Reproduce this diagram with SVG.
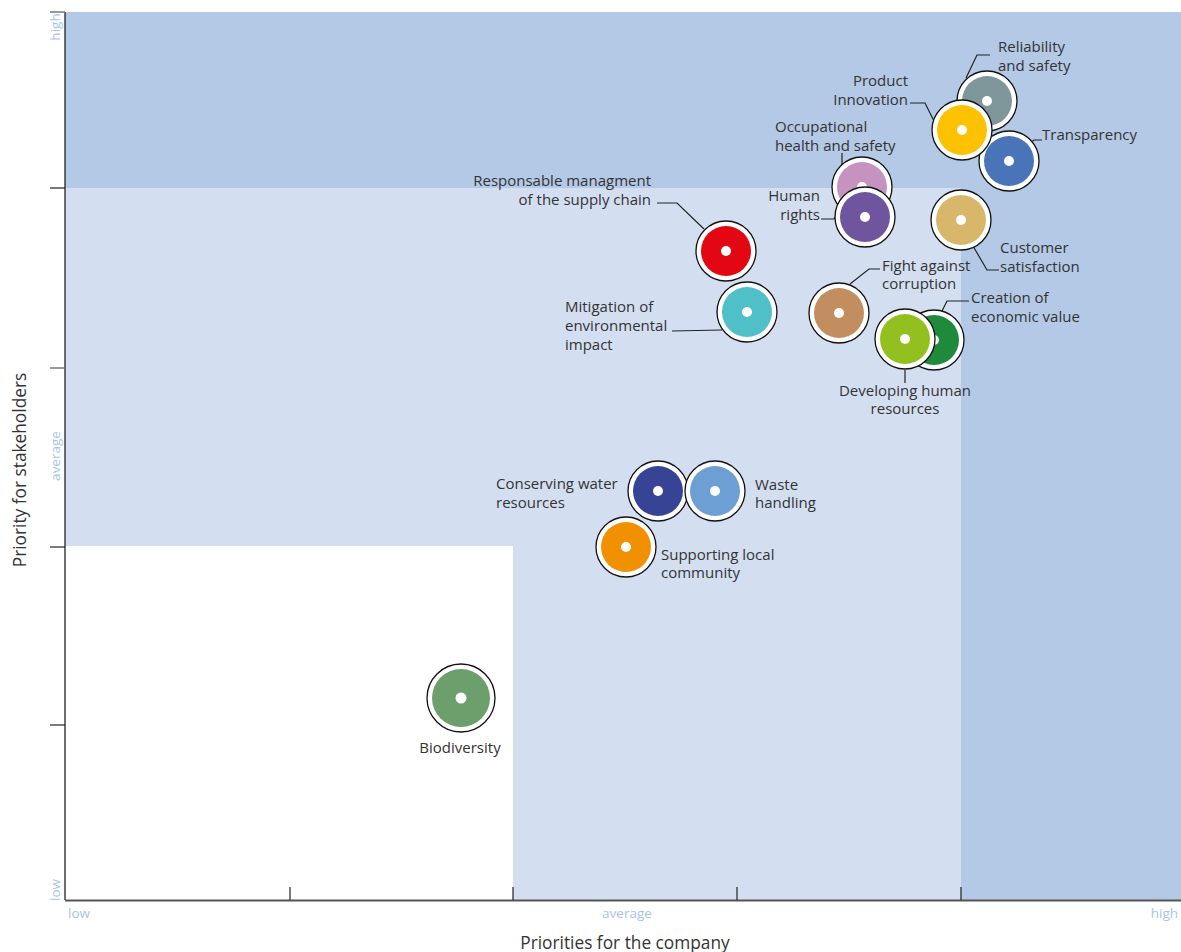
<svg xmlns="http://www.w3.org/2000/svg" width="1181" height="952" viewBox="0 0 1181 952">
<style>
.lbl{font-family:"Open Sans","Liberation Sans",sans-serif;font-size:15px;fill:#333}
.ax{font-family:"Open Sans","Liberation Sans",sans-serif;font-size:13.5px;fill:#a9c3e8}
.title{font-family:"Open Sans","Liberation Sans",sans-serif;font-size:17.3px;fill:#333}
.ring{fill:#fff;stroke:#111;stroke-width:1.3}
.dot{fill:#fff}
.lead{fill:none;stroke:#222;stroke-width:1.2}
.tk{stroke:#222;stroke-width:1.2}
</style>
<rect width="1181" height="952" fill="#fff"/>
<g id="background">
<rect x="65" y="12" width="1116" height="888" fill="#d3dff1"/>
<rect x="65" y="12" width="1116" height="176" fill="#b4c9e6"/>
<rect x="961" y="188" width="220" height="712" fill="#b4c9e6"/>
<rect x="65" y="546" width="448" height="354" fill="#fff"/>
</g>
<g id="axes">
<line x1="65" y1="12" x2="65" y2="900" stroke="#222" stroke-width="1.3"/>
<line x1="65" y1="900.5" x2="1181" y2="900.5" stroke="#555" stroke-width="2"/>
<line x1="50" y1="12" x2="65" y2="12" stroke="#777" stroke-width="1.5"/>
<line class="tk" x1="50" y1="188" x2="65" y2="188"/>
<line x1="50" y1="368" x2="65" y2="368" stroke="#777" stroke-width="1.5"/>
<line class="tk" x1="50" y1="547" x2="65" y2="547"/>
<line class="tk" x1="50" y1="725" x2="65" y2="725"/>
<line class="tk" x1="290" y1="887" x2="290" y2="900"/>
<line class="tk" x1="513" y1="887" x2="513" y2="900"/>
<line class="tk" x1="737" y1="887" x2="737" y2="900"/>
<line class="tk" x1="961" y1="887" x2="961" y2="900"/>
<text class="ax" transform="translate(60,27) rotate(-90)" text-anchor="middle">high</text>
<text class="ax" transform="translate(60,456) rotate(-90)" text-anchor="middle">average</text>
<text class="ax" transform="translate(60,890) rotate(-90)" text-anchor="middle">low</text>
<text class="ax" x="68" y="918">low</text>
<text class="ax" x="627" y="918" text-anchor="middle">average</text>
<text class="ax" x="1178" y="918" text-anchor="end">high</text>
<text class="title" transform="translate(26,470) rotate(-90)" text-anchor="middle">Priority for stakeholders</text>
<text class="title" x="625" y="949" text-anchor="middle">Priorities for the company</text>
</g>
<g id="connectors">
<polyline class="lead" points="990,55 977,55 966,78"/>
<polyline class="lead" points="910,103 925,103 934,121"/>
<polyline class="lead" points="1030,143 1034,140 1042,140"/>
<polyline class="lead" points="842,153 842,166"/>
<polyline class="lead" points="821,219 834,219 836,216"/>
<polyline class="lead" points="973,246 987,270 999,270"/>
<polyline class="lead" points="850,284 869,269 880,269"/>
<polyline class="lead" points="942,311 947,301 969,301"/>
<polyline class="lead" points="905,370 905,383"/>
<polyline class="lead" points="657,203 677,203 704,229"/>
<polyline class="lead" points="672,331 722,330"/>
</g>
<g id="n-reliability"><circle class="ring" cx="987" cy="101" r="30"/><circle cx="987" cy="101" r="25" fill="#7f979b"/><circle class="dot" cx="987" cy="101" r="5"/>
<text class="lbl" x="998" y="52">Reliability</text><text class="lbl" x="998" y="71">and safety</text></g>
<g id="n-transparency"><circle class="ring" cx="1009" cy="161" r="30"/><circle cx="1009" cy="161" r="25" fill="#4a74b8"/><circle class="dot" cx="1009" cy="161" r="5"/>
<text class="lbl" x="1042" y="140">Transparency</text></g>
<g id="n-innovation"><circle class="ring" cx="962" cy="130" r="30"/><circle cx="962" cy="130" r="25" fill="#fcc200"/><circle class="dot" cx="962" cy="130" r="5"/>
<text class="lbl" x="908" y="86" text-anchor="end">Product</text><text class="lbl" x="908" y="105" text-anchor="end">Innovation</text></g>
<g id="n-occupational"><circle class="ring" cx="862" cy="187" r="30"/><circle cx="862" cy="187" r="25" fill="#c693c1"/><circle class="dot" cx="862" cy="187" r="5"/>
<text class="lbl" x="775" y="132">Occupational</text><text class="lbl" x="775" y="151">health and safety</text></g>
<g id="n-human"><circle class="ring" cx="865" cy="217" r="30"/><circle cx="865" cy="217" r="25" fill="#6f559e"/><circle class="dot" cx="865" cy="217" r="5"/>
<text class="lbl" x="820" y="201" text-anchor="end">Human</text><text class="lbl" x="820" y="220" text-anchor="end">rights</text></g>
<g id="n-customer"><circle class="ring" cx="961" cy="220" r="30"/><circle cx="961" cy="220" r="25" fill="#d8b76a"/><circle class="dot" cx="961" cy="220" r="5"/>
<text class="lbl" x="1000" y="253">Customer</text><text class="lbl" x="1000" y="272">satisfaction</text></g>
<g id="n-supply"><circle class="ring" cx="726" cy="251" r="30"/><circle cx="726" cy="251" r="25" fill="#e30613"/><circle class="dot" cx="726" cy="251" r="5"/>
<text class="lbl" x="651" y="186" text-anchor="end">Responsable managment</text><text class="lbl" x="651" y="205" text-anchor="end">of the supply chain</text></g>
<g id="n-mitigation"><circle class="ring" cx="747" cy="312" r="30"/><circle cx="747" cy="312" r="25" fill="#4fbfc8"/><circle class="dot" cx="747" cy="312" r="5"/>
<text class="lbl" x="565" y="312">Mitigation of</text><text class="lbl" x="565" y="331">environmental</text><text class="lbl" x="565" y="350">impact</text></g>
<g id="n-corruption"><circle class="ring" cx="839" cy="313" r="30"/><circle cx="839" cy="313" r="25" fill="#c38e5f"/><circle class="dot" cx="839" cy="313" r="5"/>
<text class="lbl" x="882" y="271">Fight against</text><text class="lbl" x="882" y="289">corruption</text></g>
<g id="n-economic"><circle class="ring" cx="934" cy="340" r="30"/><circle cx="934" cy="340" r="25" fill="#1f8a3c"/><circle class="dot" cx="934" cy="340" r="5"/>
<text class="lbl" x="971" y="303">Creation of</text><text class="lbl" x="971" y="322">economic value</text></g>
<g id="n-developing"><circle class="ring" cx="905" cy="339" r="30"/><circle cx="905" cy="339" r="25" fill="#93c01f"/><circle class="dot" cx="905" cy="339" r="5"/>
<text class="lbl" x="905" y="396" text-anchor="middle">Developing human</text><text class="lbl" x="905" y="414" text-anchor="middle">resources</text></g>
<g id="n-water"><circle class="ring" cx="658" cy="491" r="30"/><circle cx="658" cy="491" r="25" fill="#374496"/><circle class="dot" cx="658" cy="491" r="5"/>
<text class="lbl" x="496" y="489">Conserving water</text><text class="lbl" x="496" y="508">resources</text></g>
<g id="n-waste"><circle class="ring" cx="715" cy="491" r="30"/><circle cx="715" cy="491" r="25" fill="#6e9fd4"/><circle class="dot" cx="715" cy="491" r="5"/>
<text class="lbl" x="755" y="490">Waste</text><text class="lbl" x="755" y="508">handling</text></g>
<g id="n-community"><circle class="ring" cx="626" cy="547" r="30"/><circle cx="626" cy="547" r="25" fill="#f29100"/><circle class="dot" cx="626" cy="547" r="5"/>
<text class="lbl" x="661" y="560">Supporting local</text><text class="lbl" x="661" y="578">community</text></g>
<g id="n-biodiversity"><circle class="ring" cx="461" cy="698" r="34"/><circle cx="461" cy="698" r="29" fill="#6c9f6c"/><circle class="dot" cx="461" cy="698" r="5.5"/>
<text class="lbl" x="460" y="753" text-anchor="middle">Biodiversity</text></g>
</svg>
